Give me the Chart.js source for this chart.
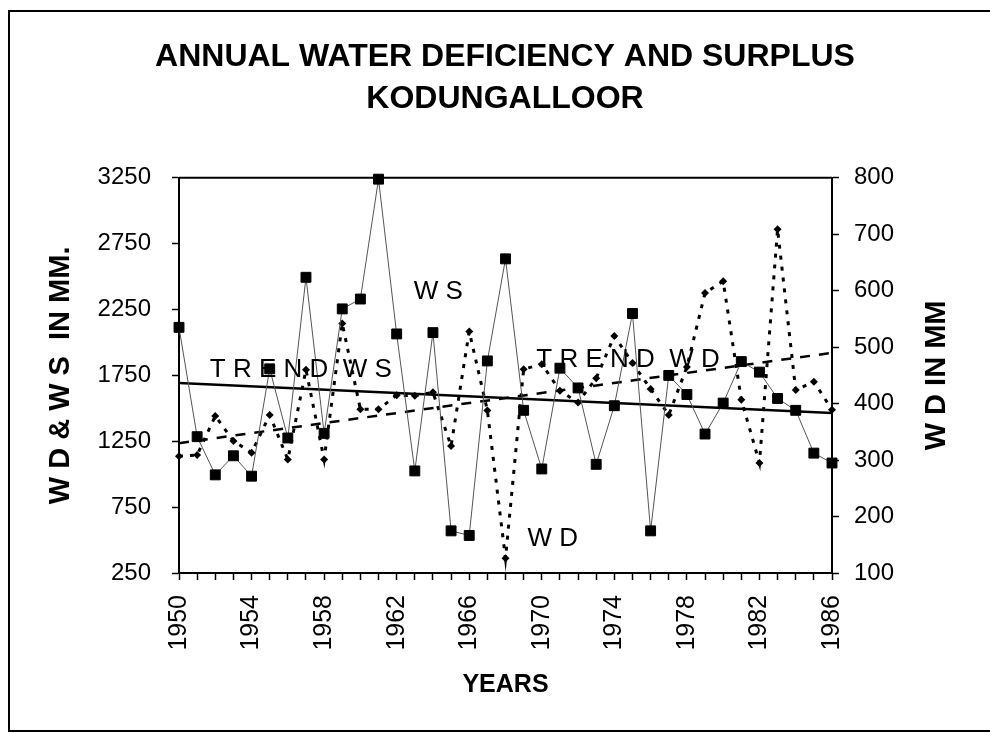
<!DOCTYPE html>
<html>
<head>
<meta charset="utf-8">
<title>Annual Water Deficiency and Surplus - Kodungalloor</title>
<script src="https://cdn.jsdelivr.net/npm/chart.js@4.4.1/dist/chart.umd.min.js"></script>
<style>
    html, body { margin: 0; padding: 0; background: #fff; }
    #wrap { position: relative; width: 990px; height: 733px; }
</style>
</head>
<body>
<div id="wrap"><canvas id="myChart"></canvas></div>
<script>
const years = [1950, 1951, 1952, 1953, 1954, 1955, 1956, 1957, 1958, 1959,
    1960, 1961, 1962, 1963, 1964, 1965, 1966, 1967, 1968, 1969,
    1970, 1971, 1972, 1973, 1974, 1975, 1976, 1977, 1978, 1979,
    1980, 1981, 1982, 1983, 1984, 1985, 1986];
const yearLabels = [1950, 1954, 1958, 1962, 1966, 1970, 1974, 1978, 1982, 1986];

// water surplus, mm (left axis)
const wsValues = [2115, 1285, 995, 1140, 985, 1800, 1275, 2495, 1310, 2255,
    2330, 3240, 2065, 1025, 2075, 570, 535, 1860, 2635, 1485,
    1040, 1805, 1655, 1075, 1520, 2220, 570, 1750, 1605, 1305,
    1540, 1855, 1775, 1575, 1485, 1160, 1085];

// water deficiency, mm (right axis)
const wdValues = [307, 309, 378, 334, 313, 380, 301, 460, 301, 542,
    390, 390, 415, 414, 420, 325, 528, 388, 126, 461,
    470, 423, 402, 445, 520, 472, 426, 380, 465, 596,
    617, 407, 295, 709, 424, 439, 389];

// linear trends, value at first and last year
const trendWs = [1693, 1465];
const trendWd = [330, 490];

const leftTicks = [250, 750, 1250, 1750, 2250, 2750, 3250];
const rightTicks = [100, 200, 300, 400, 500, 600, 700, 800];

const family = "'Liberation Sans', Arial, sans-serif";

const notes = [
    {text: "W S", x: 1964.3, y: 2385, align: "center"},
    {text: "T R E N D  W S", x: 1951.7, y: 1792, align: "left"},
    {text: "T R E N D  W D", x: 1969.7, y: 1868, align: "left"},
    {text: "W D", x: 1970.6, y: 508, align: "center"}
];

const framePlugin = {
    id: "frame",
    beforeDraw(chart) {
        const ctx = chart.ctx;
        ctx.save();
        ctx.fillStyle = "#fff";
        ctx.fillRect(0, 0, chart.width, chart.height);
        ctx.strokeStyle = "#000";
        ctx.lineWidth = 2;
        ctx.beginPath();
        ctx.moveTo(chart.width, 11);
        ctx.lineTo(9, 11);
        ctx.lineTo(9, 731);
        ctx.lineTo(chart.width, 731);
        ctx.stroke();
        ctx.restore();
    },
    afterDatasetsDraw(chart) {
        const {ctx, scales} = chart;
        ctx.save();
        ctx.font = `26px ${family}`;
        ctx.fillStyle = "#000";
        ctx.textBaseline = "middle";
        notes.forEach(n => {
            ctx.textAlign = n.align;
            ctx.fillText(n.text, scales.x.getPixelForValue(n.x), scales.y.getPixelForValue(n.y));
        });
        ctx.restore();
    },
    afterDraw(chart) {
        const {ctx, chartArea: a, scales} = chart;
        ctx.save();
        ctx.strokeStyle = "#000";
        ctx.lineWidth = 2;
        ctx.beginPath();
        ctx.moveTo(a.left, a.top);
        ctx.lineTo(a.right, a.top);
        ctx.stroke();

        // right axis title reads upward like the left one
        ctx.font = `bold 29px ${family}`;
        ctx.fillStyle = "#000";
        ctx.textAlign = "center";
        ctx.textBaseline = "middle";
        ctx.translate(scales.y2.right - 53, (a.top + a.bottom) / 2);
        ctx.rotate(-Math.PI / 2);
        ctx.fillText("W D IN MM", 0, 0);
        ctx.restore();
    }
};

const axisGrid = {
    drawOnChartArea: false,
    drawTicks: true,
    tickLength: 7,
    tickColor: "#000",
    tickWidth: 1.5
};
const axisBorder = {display: true, color: "#000", width: 2};

window.onload = () => {
    const ctx = document.getElementById("myChart").getContext("2d");
    const first = years[0];
    const last = years[years.length - 1];

    const data = {
        datasets: [
            {
                label: "WS",
                data: years.map((yr, i) => ({x: yr, y: wsValues[i]})),
                yAxisID: "y",
                borderColor: "#555",
                borderWidth: 1,
                pointStyle: "rect",
                pointRadius: 7,
                pointBackgroundColor: "#000",
                pointBorderColor: "#000",
                pointBorderWidth: 1,
                clip: false
            },
            {
                label: "WD",
                data: years.map((yr, i) => ({x: yr, y: wdValues[i]})),
                yAxisID: "y2",
                borderColor: "#000",
                borderWidth: 3,
                borderDash: [4, 7],
                pointStyle: "rectRot",
                pointRadius: 4,
                pointBackgroundColor: "#000",
                pointBorderColor: "#000",
                pointBorderWidth: 0,
                clip: false
            },
            {
                label: "TREND WS",
                data: [{x: first, y: trendWs[0]}, {x: last, y: trendWs[1]}],
                yAxisID: "y",
                borderColor: "#000",
                borderWidth: 2.5,
                pointRadius: 0
            },
            {
                label: "TREND WD",
                data: [{x: first, y: trendWd[0]}, {x: last, y: trendWd[1]}],
                yAxisID: "y2",
                borderColor: "#000",
                borderWidth: 2.5,
                borderDash: [10, 9],
                pointRadius: 0
            }
        ]
    };

    new Chart(ctx, {
        type: "line",
        data,
        plugins: [framePlugin],
        options: {
            responsive: true,
            maintainAspectRatio: false,
            animation: false,
            layout: {padding: {left: 20, top: 0, right: 0, bottom: 0}},
            plugins: {
                legend: {display: false},
                tooltip: {enabled: false},
                title: {
                    display: true,
                    text: ["ANNUAL WATER DEFICIENCY AND SURPLUS", "KODUNGALLOOR"],
                    color: "#000",
                    font: {family, size: 32, weight: "bold", lineHeight: 1.31},
                    padding: {top: 36, bottom: 58}
                }
            },
            scales: {
                x: {
                    type: "linear",
                    min: first,
                    max: last,
                    afterBuildTicks: s => { s.ticks = years.map(v => ({value: v})); },
                    afterFit: s => { s.height = 160; },
                    ticks: {
                        autoSkip: false,
                        maxRotation: 90,
                        minRotation: 90,
                        padding: 15,
                        color: "#000",
                        font: {family, size: 25},
                        callback: v => yearLabels.includes(v) ? String(v) : ""
                    },
                    grid: axisGrid,
                    border: axisBorder,
                    title: {
                        display: true,
                        text: "YEARS",
                        color: "#000",
                        font: {family, size: 25, weight: "bold"},
                        padding: {top: 0, bottom: 33}
                    }
                },
                y: {
                    type: "linear",
                    position: "left",
                    min: leftTicks[0],
                    max: leftTicks[leftTicks.length - 1],
                    afterBuildTicks: s => { s.ticks = leftTicks.map(v => ({value: v})); },
                    afterFit: s => { s.width = 159; },
                    ticks: {
                        padding: 21,
                        color: "#000",
                        font: {family, size: 24},
                        callback: v => String(v)
                    },
                    grid: axisGrid,
                    border: axisBorder,
                    title: {
                        display: true,
                        text: "W D & W S  IN MM.",
                        color: "#000",
                        font: {family, size: 29, weight: "bold"},
                        padding: {top: 24, bottom: 0}
                    }
                },
                y2: {
                    type: "linear",
                    position: "right",
                    min: rightTicks[0],
                    max: rightTicks[rightTicks.length - 1],
                    afterBuildTicks: s => { s.ticks = rightTicks.map(v => ({value: v})); },
                    afterFit: s => { s.width = 158; },
                    ticks: {
                        padding: 15,
                        color: "#000",
                        font: {family, size: 24},
                        callback: v => String(v)
                    },
                    grid: axisGrid,
                    border: axisBorder
                }
            }
        }
    });
};
</script>
</body>
</html>
